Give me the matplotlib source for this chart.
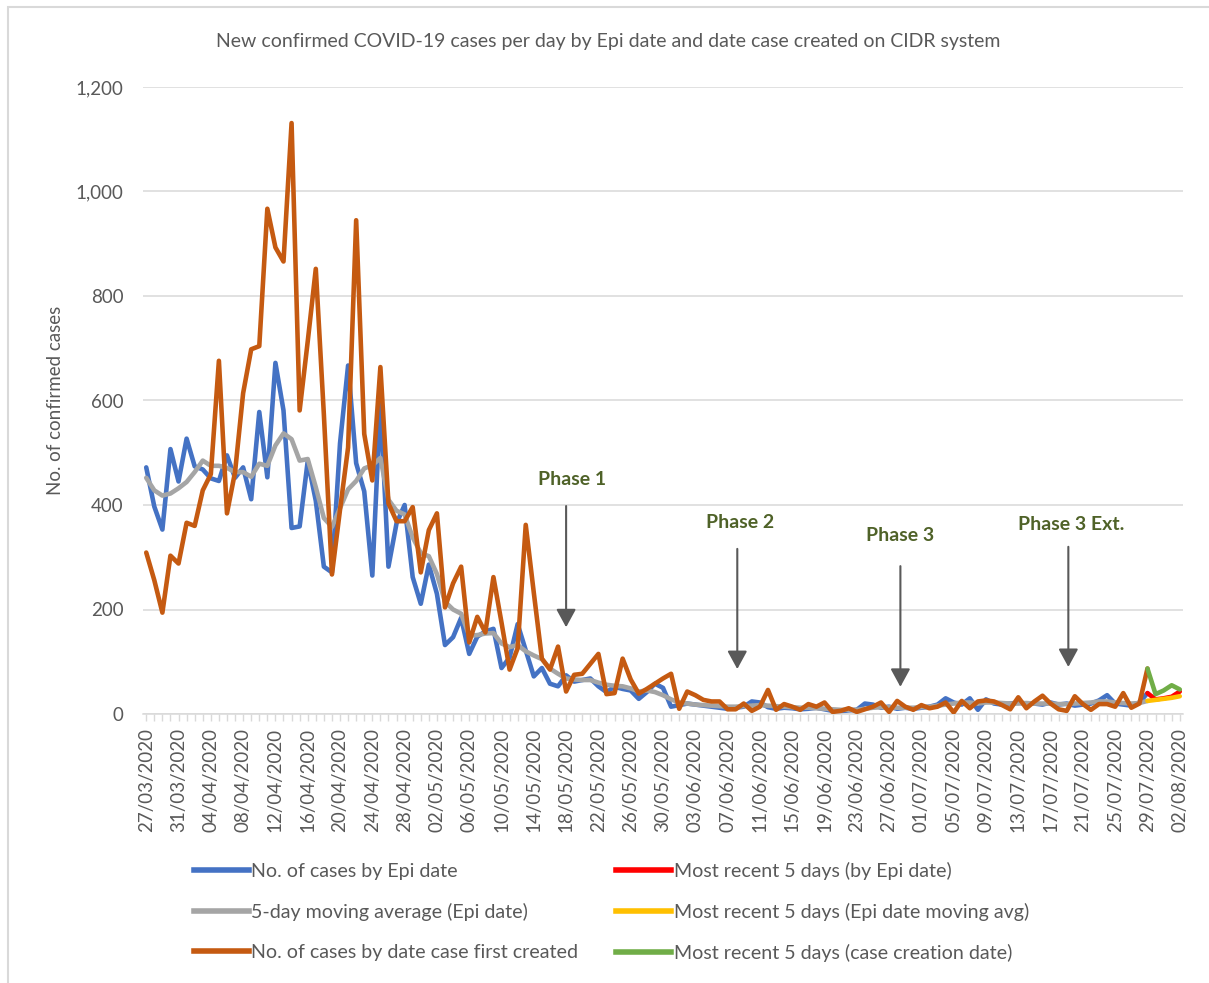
import numpy as np
import pandas as pd
import matplotlib
matplotlib.use("Agg")
import matplotlib.pyplot as plt
from matplotlib.lines import Line2D
from matplotlib.patches import Rectangle
from matplotlib.ticker import FuncFormatter, MultipleLocator

plt.rcParams["font.family"] = ["Lato", "DejaVu Sans"]

# Daily categories, 27/03/2020 .. 02/08/2020
DATES = pd.date_range("2020-03-27", "2020-08-02", freq="D")
TICK_LABELS = [d.strftime("%d/%m/%Y") for d in DATES]

# Daily counts up to 28/07 (the last five days are kept separately)
CASES_EPI = [
    472, 397, 353, 507, 445, 527, 474, 468, 451, 446,
    495, 452, 472, 411, 578, 453, 672, 581, 356, 359,
    484, 408, 282, 271, 518, 667, 480, 426, 265, 595,
    282, 365, 400, 262, 211, 286, 230, 132, 147, 184,
    115, 148, 158, 163, 88, 108, 172, 122, 72, 88,
    58, 53, 74, 62, 65, 68, 53, 42, 52, 48,
    45, 29, 42, 58, 50, 14, 17, 20,
    18, 16, 14, 12, 10, 12, 14, 24, 22, 13,
    10, 12, 11, 9, 10, 12, 9, 6, 5, 7,
    8, 20, 18, 12, 14, 10, 12, 10, 12, 14,
    18, 30, 22, 18, 30, 8, 28, 20, 18, 20,
    22, 20, 20, 18, 22, 18, 20, 16, 18, 20,
    26, 36, 20, 18, 16, 22,
]
MOVING_AVG = [
    452, 428, 418, 422, 432, 444, 463, 485, 475, 475,
    471, 463, 463, 454, 479, 475, 514, 537, 526, 485,
    488, 434, 375, 358, 394, 430, 446, 470, 476, 490,
    410, 389, 382, 338, 308, 302, 268, 215, 200, 192,
    150, 151, 154, 155, 135, 128, 132, 120, 112, 105,
    87, 77, 68, 66, 65, 65, 60, 56, 54, 53,
    49, 43, 45, 42, 36, 28, 22, 20,
    18, 17, 16, 15, 14, 14, 15, 16, 17, 16,
    15, 14, 13, 12, 12, 11, 10, 9, 8, 8,
    8, 10, 12, 13, 13, 12, 12, 12, 13, 14,
    16, 18, 20, 22, 22, 20, 22, 22, 21, 20,
    20, 21, 20, 20, 20, 19, 19, 20, 21, 22,
    24, 24, 22, 21, 20, 21,
]
CASES_CREATED = [
    309, 256, 194, 303, 288, 366, 360, 428, 459, 676,
    384, 463, 614, 698, 704, 967, 893, 866, 1131, 581,
    713, 852, 573, 267, 391, 510, 945, 536, 447, 664,
    403, 369, 369, 396, 271, 352, 384, 204, 250, 282,
    137, 186, 156, 262, 175, 85, 126, 362, 232, 106,
    85, 129, 43, 75, 77, 96, 115, 38, 40, 106,
    66, 39, 48, 58, 68, 77, 10, 43,
    36, 27, 24, 24, 9, 9, 20, 6, 14, 46,
    8, 19, 14, 8, 19, 14, 22, 4, 6, 11,
    4, 9, 14, 22, 4, 25, 14, 8, 17, 11,
    14, 22, 3, 25, 11, 24, 26, 24, 17, 9,
    32, 11, 24, 35, 20, 9, 6, 34, 19, 8,
    19, 19, 14, 40, 12, 20,
]

# Most recent five days (29/07 .. 02/08)
RECENT_EPI = [40, 28, 30, 33, 43]
RECENT_AVG = [25, 27, 29, 31, 34]
RECENT_CREATED = [87, 38, 45, 55, 47]

LABEL_EPI = "No. of cases by Epi date"
LABEL_AVG = "5-day moving average (Epi date)"
LABEL_CREATED = "No. of cases by date case first created"
LABEL_RECENT_EPI = "Most recent 5 days (by Epi date)"
LABEL_RECENT_AVG = "Most recent 5 days (Epi date moving avg)"
LABEL_RECENT_CREATED = "Most recent 5 days (case creation date)"

PHASE_NAMES = ["Phase 1", "Phase 2", "Phase 3", "Phase 3 Ext."]

# annotation layout, in data units (day index, cases)
PHASE_ARROW_X = [52.0, 73.2, 93.4, 114.2]
PHASE_ARROW_TOP = [398, 316, 283, 320]
PHASE_ARROW_TIP = [166, 86, 52, 90]
PHASE_TEXT_X = [52.7, 73.6, 93.4, 114.6]
PHASE_TEXT_Y = [448, 366, 341, 362]

BLUE = "#4472C4"
GREY = "#A5A5A5"
ORANGE = "#C55A11"
RED = "#FF0000"
YELLOW = "#FFC000"
GREEN = "#70AD47"
TEXT = "#595959"
GRID = "#D9D9D9"
PHASE_GREEN = "#4F6228"

W, H = 1209, 983
fig = plt.figure(figsize=(W / 100, H / 100), dpi=100)
fig.patch.set_facecolor("white")
ax = fig.add_axes([143 / W, 1 - 714 / H, 1040 / W, 627 / H])

x = np.arange(len(DATES))
n_hist = len(CASES_EPI)
x_hist = x[: n_hist + 1]
x_recent = x[n_hist:]

line_kw = dict(lw=3.3, solid_joinstyle="round", solid_capstyle="round")
ax.plot(x_hist, CASES_EPI + RECENT_EPI[:1], color=BLUE, zorder=2, **line_kw)
ax.plot(x_recent, RECENT_EPI, color=RED, zorder=3, **line_kw)
ax.plot(x_hist, MOVING_AVG + RECENT_AVG[:1], color=GREY, zorder=4, **line_kw)
ax.plot(x_recent, RECENT_AVG, color=YELLOW, zorder=5, **line_kw)
ax.plot(x_hist, CASES_CREATED + RECENT_CREATED[:1], color=ORANGE, zorder=6, **line_kw)
ax.plot(x_recent, RECENT_CREATED, color=GREEN, zorder=7, **line_kw)

# axes styling
ax.set_xlim(-0.4, len(DATES) - 0.6)
ax.set_ylim(0, 1200)
ax.yaxis.set_major_locator(MultipleLocator(200))
ax.yaxis.set_major_formatter(FuncFormatter(lambda v, _: f"{v:,.0f}"))
ax.grid(axis="y", color=GRID, lw=1.1)
ax.set_axisbelow(True)
for side in ("top", "right", "left"):
    ax.spines[side].set_visible(False)
ax.spines["bottom"].set_color(GRID)
ax.spines["bottom"].set_linewidth(1.1)

ax.set_xticks(x[::4])
ax.set_xticklabels(TICK_LABELS[::4], rotation=90)
ax.set_xticks(x, minor=True)
ax.tick_params(axis="x", which="both", length=5, width=1.0, color=GRID,
               labelsize=13.5, labelcolor=TEXT, pad=5)
ax.tick_params(axis="y", length=0, pad=14, labelsize=13.5, labelcolor=TEXT)

ax.set_ylabel("No. of confirmed cases", fontsize=13.5, color=TEXT)
ax.yaxis.set_label_coords(-0.076, 0.5)

fig.text(608 / W, 1 - 42 / H,
         "New confirmed COVID-19 cases per day by Epi date and date case created on CIDR system",
         ha="center", va="center", fontsize=14, color=TEXT)

# phase markers
for name, ax_x, top, tip, tx, ty in zip(PHASE_NAMES, PHASE_ARROW_X, PHASE_ARROW_TOP,
                                        PHASE_ARROW_TIP, PHASE_TEXT_X, PHASE_TEXT_Y):
    ax.annotate("", xy=(ax_x, tip), xytext=(ax_x, top),
                arrowprops=dict(arrowstyle="-|>,head_length=0.55,head_width=0.3",
                                color=TEXT, lw=1.5, shrinkA=0, shrinkB=0,
                                mutation_scale=20),
                zorder=8)
    ax.text(tx, ty, name, ha="center", va="center", fontsize=14,
            fontweight="bold", color=PHASE_GREEN, zorder=9)

# legend, two columns of three
handles = [
    Line2D([], [], color=BLUE, lw=4),
    Line2D([], [], color=GREY, lw=4),
    Line2D([], [], color=ORANGE, lw=4),
    Line2D([], [], color=RED, lw=4),
    Line2D([], [], color=YELLOW, lw=4),
    Line2D([], [], color=GREEN, lw=4),
]
labels = [LABEL_EPI, LABEL_AVG, LABEL_CREATED,
          LABEL_RECENT_EPI, LABEL_RECENT_AVG, LABEL_RECENT_CREATED]
fig.legend(handles, labels, ncol=2, loc="upper left",
           bbox_to_anchor=(194 / W, 1 - 862 / H), frameon=False,
           fontsize=14.1, labelcolor=TEXT, handlelength=2.8,
           handletextpad=0.12, columnspacing=1.95, labelspacing=1.17,
           borderpad=0, borderaxespad=0)

# chart area border
fig.add_artist(Rectangle((8 / W, -0.1), 1.2, 1.1 - 7 / H,
                         transform=fig.transFigure, fill=False,
                         edgecolor=GRID, lw=1.5))

fig.savefig("out.png", dpi=100, facecolor="white")
